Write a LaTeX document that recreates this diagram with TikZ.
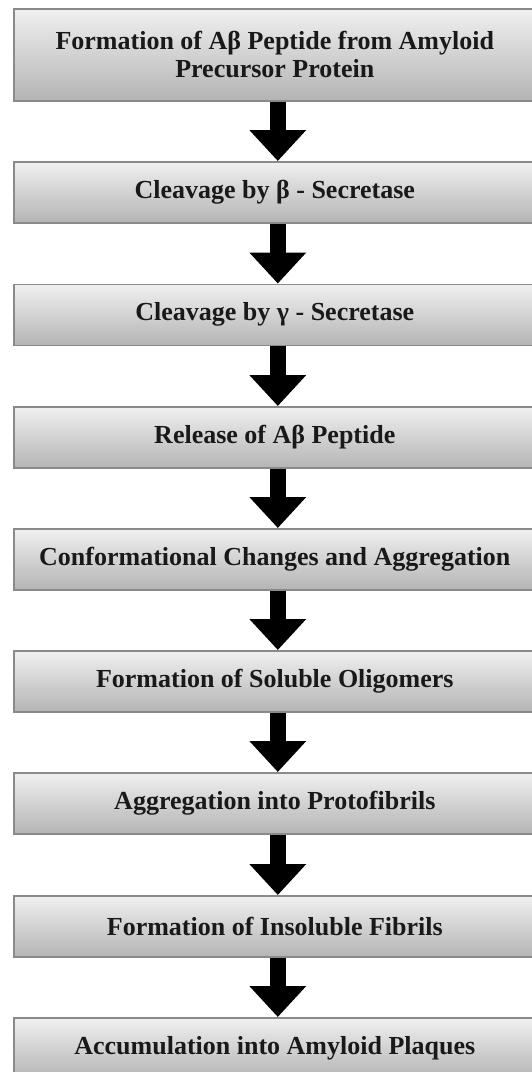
\documentclass[tikz,border=0pt]{standalone}
\usepackage{fontspec}
\setmainfont{Liberation Serif}
\usetikzlibrary{arrows.meta}
\definecolor{boxborder}{HTML}{8A8A8A}
\definecolor{boxtop}{HTML}{F0F0F0}
\definecolor{boxbot}{HTML}{B4B4B4}
\begin{document}
\begin{tikzpicture}[x=1pt,y=1pt,
  box/.style={draw=boxborder, line width=1.6pt, top color=boxtop, bottom color=boxbot,
    minimum width=522pt, minimum height=61pt, anchor=north west, inner sep=0pt,
    align=center, font=\bfseries\fontsize{26}{28}\selectfont, text=black!90},
  flow/.style={line width=16pt, black, -{Triangle[width=55pt,length=31pt]}}]
\useasboundingbox (0,0) rectangle (532,-1072);
\clip (0,0) rectangle (532,-1072);
\node[box, minimum height=92pt] (b1) at (13,-8) {Formation of Aβ Peptide from Amyloid\\Precursor Protein};
\node[box] (b2) at (13,-161) {Cleavage by β - Secretase};
\node[box] (b3) at (13,-283.5) {Cleavage by γ - Secretase};
\node[box] (b4) at (13,-406) {Release of Aβ Peptide};
\node[box] (b5) at (13,-528) {Conformational Changes and Aggregation};
\node[box] (b6) at (13,-650) {Formation of Soluble Oligomers};
\node[box] (b7) at (13,-772) {Aggregation into Protofibrils};
\node[box] (b8) at (13,-895) {Formation of Insoluble Fibrils};
\node[box] (b9) at (13,-1017) {Accumulation into Amyloid Plaques};
\foreach \a/\b in {b1/b2,b2/b3,b3/b4,b4/b5,b5/b6,b6/b7,b7/b8,b8/b9}
  \draw[flow] ([xshift=3pt]\a.south) -- ([xshift=3pt]\b.north);
\end{tikzpicture}
\end{document}
